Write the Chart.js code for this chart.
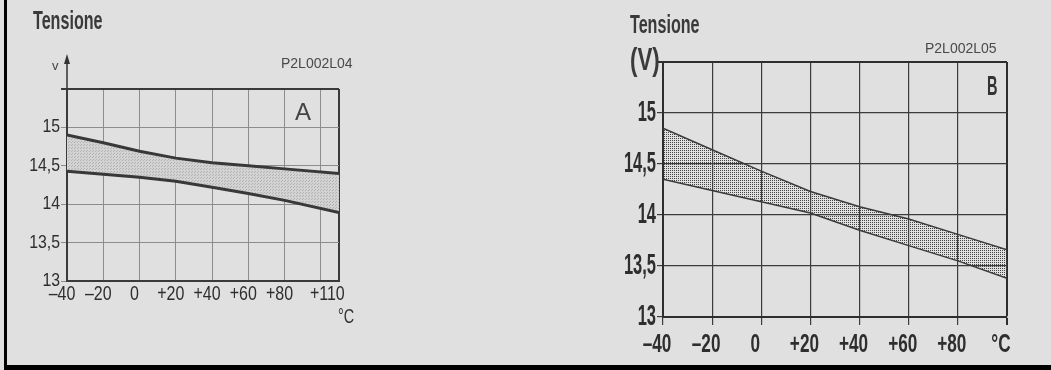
<!DOCTYPE html>
<html>
<head>
<meta charset="utf-8">
<script src="https://cdn.jsdelivr.net/npm/chart.js@4.4.1/dist/chart.umd.min.js"></script>
<style>
  html, body { margin: 0; padding: 0; background: #e0e0e0; }
  body { width: 1051px; height: 370px; position: relative; overflow: hidden; }
  #frame { position: absolute; left: 4px; top: -10px; width: 1100px; height: 380px;
           border-left: 3px solid #000; border-bottom: 5px solid #000; box-sizing: border-box; }
  canvas { position: absolute; top: 0; }
  #cA { left: 0; }
  #cB { left: 560px; }
</style>
</head>
<body>
<div id="frame"></div>
<canvas id="cA" width="400" height="370"></canvas>
<canvas id="cB" width="491" height="370"></canvas>
<script>
const ARIAL = '"Liberation Sans", Arial, sans-serif';
// "CondNN" families fall back to Liberation Sans and are drawn at NN% width
const cond = k => '"Cond' + k + '", "Liberation Sans", Arial, sans-serif';

// Panel A: regulated voltage band vs temperature
const tempsA  = [-40, -20, 0, 20, 40, 60, 80, 110];
const upperA  = [14.90, 14.80, 14.69, 14.60, 14.54, 14.50, 14.46, 14.40];
const lowerA  = [14.43, 14.39, 14.35, 14.30, 14.22, 14.14, 14.05, 13.89];
const xTickValuesA = [-40, -20, 0, 20, 40, 60, 80, 100, 110];
const xTickLabelsA = ['\u201340', '\u201320', '0', '+20', '+40', '+60', '+80', '', '+110   '];

// Panel B: regulated voltage band vs temperature
const tempsB  = [-40, -20, 0, 20, 40, 60, 80, 100];
const upperB  = [14.85, 14.64, 14.43, 14.23, 14.08, 13.96, 13.81, 13.66];
const lowerB  = [14.35, 14.24, 14.13, 14.02, 13.85, 13.70, 13.55, 13.38];
const xTickValuesB = [-40, -20, 0, 20, 40, 60, 80, 100];
const xTickLabelsB = ['\u201340', '\u201320', '0', '+20', '+40', '+60', '+80', '\u00b0C'];

// Shared voltage axis
const yTickValues = [13, 13.5, 14, 14.5, 15, 15.5];
const yTickLabels = ['13', '13,5', '14', '14,5', '15', ''];

// Condensed lettering: text set in a "CondNN" family is squeezed horizontally
function enableCondensed(canvas) {
  const ctx = canvas.getContext('2d');
  const base = ctx.fillText;
  ctx.fillText = function (text, x, y) {
    const m = /Cond(\d+)/.exec(this.font);
    if (!m) return base.call(this, text, x, y);
    this.save();
    this.translate(x, y);
    this.scale(+m[1] / 100, 1);
    base.call(this, text, 0, 0);
    this.restore();
  };
}

function dotPattern(size, bg, dot, dots) {
  const c = document.createElement('canvas');
  c.width = c.height = size;
  const g = c.getContext('2d');
  if (bg) { g.fillStyle = bg; g.fillRect(0, 0, size, size); }
  g.fillStyle = dot;
  dots.forEach(([x, y]) => g.fillRect(x, y, 1, 1));
  return g.createPattern(c, 'repeat');
}

const patA = dotPattern(3, '#d3d3d3', '#b2b2b2', [[0, 0], [2, 1]]);
const patB = dotPattern(2, null, '#444444', [[0, 0]]);

const pts = (xs, ys) => xs.map((x, i) => ({ x: x, y: ys[i] }));

function axes(opt) {
  return {
    x: {
      type: 'linear', min: opt.xMin, max: opt.xMax,
      afterBuildTicks: s => { s.ticks = opt.xTicks.map(v => ({ value: v })); },
      afterFit: s => { s.height = opt.xHeight; },
      ticks: {
        autoSkip: false, maxRotation: 0, minRotation: 0, padding: opt.xPad,
        labelOffset: opt.xShift,
        color: opt.textColor, font: { family: cond(opt.xK), size: opt.xFont, weight: opt.weight },
        callback: (v, i) => opt.xLabels[i]
      },
      grid: {
        color: c => (c.tick && c.tick.value === opt.xMax) ? opt.borderColor : opt.gridColor,
        lineWidth: c => (c.tick && c.tick.value === opt.xMax) ? 2 : opt.gridWidth,
        tickLength: opt.xTickLen, drawTicks: opt.xTickLen > 0
      },
      border: { display: true, color: opt.borderColor, width: 2 }
    },
    y: {
      min: 13, max: 15.5,
      afterBuildTicks: s => { s.ticks = yTickValues.map(v => ({ value: v })); },
      afterFit: s => { s.width = opt.yWidth; },
      ticks: {
        autoSkip: false, padding: 1,
        color: opt.textColor, font: { family: cond(opt.yK), size: opt.yFont, weight: opt.weight },
        callback: (v, i) => yTickLabels[i]
      },
      grid: {
        color: c => (c.tick && c.tick.value === 15.5) ? opt.borderColor : opt.gridColor,
        lineWidth: c => (c.tick && c.tick.value === 15.5) ? 2 : opt.gridWidth,
        tickLength: 6, drawTicks: true
      },
      border: { display: true, color: opt.borderColor, width: 2 }
    }
  };
}

const decorA = {
  id: 'decorA',
  afterDraw(chart) {
    const { ctx, chartArea: a, scales: { x } } = chart;
    ctx.save();
    ctx.fillStyle = '#3a3a3a';
    ctx.font = 'bold 26px ' + cond(62);
    ctx.fillText('Tensione', 33, 29);
    ctx.font = '14px ' + ARIAL;
    ctx.fillStyle = '#4a4a4a';
    ctx.fillText('P2L002L04', 281, 68);
    // y axis arrow
    ctx.strokeStyle = '#333';
    ctx.lineWidth = 1.5;
    ctx.beginPath();
    ctx.moveTo(a.left, a.top);
    ctx.lineTo(a.left, a.top - 28);
    ctx.stroke();
    ctx.fillStyle = '#333';
    ctx.beginPath();
    ctx.moveTo(a.left - 3, a.top - 25);
    ctx.lineTo(a.left + 3, a.top - 25);
    ctx.lineTo(a.left, a.top - 35);
    ctx.closePath();
    ctx.fill();
    ctx.font = '13px ' + ARIAL;
    ctx.fillStyle = '#444';
    ctx.fillText('v', 52, 70);
    ctx.font = '24px ' + ARIAL;
    ctx.fillStyle = '#444';
    ctx.fillText('A', a.right - 44, a.top + 31);
    ctx.font = '20px ' + cond(72);
    ctx.fillStyle = '#333';
    ctx.fillText('\u00b0C', x.getPixelForValue(110) - 1, 323);
    ctx.restore();
  }
};

const decorB = {
  id: 'decorB',
  afterDraw(chart) {
    const { ctx, chartArea: a } = chart;
    const ox = 560; // canvas offset inside the page
    ctx.save();
    ctx.fillStyle = '#3a3a3a';
    ctx.font = 'bold 26px ' + cond(62);
    ctx.fillText('Tensione', 630 - ox, 33);
    ctx.font = 'bold 31px ' + cond(72);
    ctx.fillText('(V)', 630 - ox, 70);
    ctx.font = '14px ' + ARIAL;
    ctx.fillStyle = '#4a4a4a';
    ctx.fillText('P2L002L05', 925 - ox, 53);
    ctx.font = 'bold 28px ' + cond(52);
    ctx.fillStyle = '#333';
    ctx.fillText('B', a.right - 20, a.top + 33);
    ctx.restore();
  }
};

const cA = document.getElementById('cA');
const cB = document.getElementById('cB');
enableCondensed(cA);
enableCondensed(cB);

new Chart(cA, {
  type: 'line',
  data: {
    datasets: [
      { data: pts(tempsA, upperA), borderColor: '#383838', borderWidth: 3, pointRadius: 0,
        tension: 0, fill: '+1', backgroundColor: patA },
      { data: pts(tempsA, lowerA), borderColor: '#383838', borderWidth: 3, pointRadius: 0,
        tension: 0, fill: false }
    ]
  },
  options: {
    responsive: false, animation: false, devicePixelRatio: 1,
    layout: { padding: { left: 0, top: 89, right: 61, bottom: 0 } },
    plugins: { legend: { display: false }, tooltip: { enabled: false },
               filler: { drawTime: 'beforeDatasetsDraw' } },
    scales: axes({
      xMin: -40, xMax: 110, xTicks: xTickValuesA, xLabels: xTickLabelsA,
      xHeight: 89, yWidth: 67, xPad: 1, xTickLen: 0, xShift: -5,
      xFont: 20, xK: 80, yFont: 18, yK: 88, weight: 'normal',
      textColor: '#2e2e2e', gridColor: '#8c8c8c', gridWidth: 1, borderColor: '#3a3a3a'
    })
  },
  plugins: [decorA]
});

new Chart(cB, {
  type: 'line',
  data: {
    datasets: [
      { data: pts(tempsB, upperB), borderColor: '#3a3a3a', borderWidth: 1.5, pointRadius: 0,
        tension: 0, fill: '+1', backgroundColor: patB },
      { data: pts(tempsB, lowerB), borderColor: '#3a3a3a', borderWidth: 1.5, pointRadius: 0,
        tension: 0, fill: false }
    ]
  },
  options: {
    responsive: false, animation: false, devicePixelRatio: 1,
    layout: { padding: { left: 0, top: 62, right: 44, bottom: 0 } },
    plugins: { legend: { display: false }, tooltip: { enabled: false },
               filler: { drawTime: 'beforeDatasetsDraw' } },
    scales: axes({
      xMin: -40, xMax: 100, xTicks: xTickValuesB, xLabels: xTickLabelsB,
      xHeight: 53, yWidth: 103, xPad: 4, xTickLen: 8, xShift: -6,
      xFont: 26, xK: 66, yFont: 30, yK: 55, weight: 'bold',
      textColor: '#2e2e2e', gridColor: '#3c3c3c', gridWidth: 1.2, borderColor: '#2e2e2e'
    })
  },
  plugins: [decorB]
});
</script>
</body>
</html>
